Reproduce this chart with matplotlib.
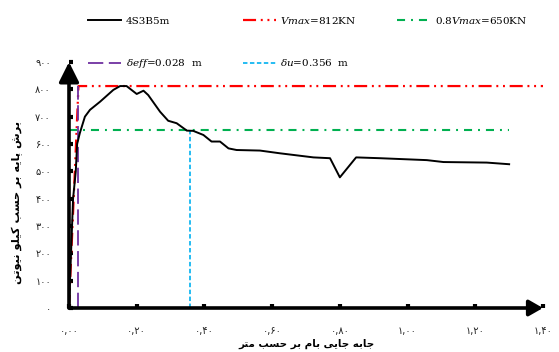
import matplotlib
matplotlib.use("Agg")
import matplotlib.pyplot as plt

plt.rcParams['lines.scale_dashes'] = False
plt.rcParams['mathtext.fontset'] = 'dejavuserif'

# ---- data -------------------------------------------------------------
disp = [0.0, 0.006, 0.012, 0.020, 0.024, 0.032, 0.047, 0.062, 0.092, 0.131,
        0.151, 0.170, 0.200, 0.220, 0.234, 0.269, 0.293, 0.318, 0.348, 0.367,
        0.397, 0.421, 0.446, 0.471, 0.495, 0.564, 0.623, 0.722, 0.771, 0.800,
        0.848, 0.919, 1.057, 1.106, 1.234, 1.300]
shear = [0, 200, 400, 500, 600, 640, 700, 725, 755, 798,
         812, 812, 783, 795, 779, 718, 685, 676, 649, 648,
         633, 609, 609, 584, 578, 576, 566, 551, 548, 478,
         551, 548, 541, 534, 532, 526]

v_max = 812
v_08 = 650
d_eff = 0.028
d_u = 0.356
x_end = 1.40
green_end = 1.30

x_ticks = [0.0, 0.2, 0.4, 0.6, 0.8, 1.0, 1.2, 1.4]
y_ticks = [0, 100, 200, 300, 400, 500, 600, 700, 800, 900]

series_label = "4S3B5m"
vmax_label = r"$Vmax$=812KN"
v08_label = r"0.8$Vmax$=650KN"
deff_label = r"$\delta eff$=0.028  m"
du_label = r"$\delta u$=0.356  m"
x_title = "جابه جایی بام بر حسب متر"
y_title = "برش پایه بر حسب کیلو نیوتن"

# ---- simple Persian shaping (presentation forms, right-to-left) -------
FORMS = {
    'ا': ('\uFE8D', '\uFE8E', None, None),
    'ب': ('\uFE8F', '\uFE90', '\uFE91', '\uFE92'),
    'پ': ('\uFB56', '\uFB57', '\uFB58', '\uFB59'),
    'ت': ('\uFE95', '\uFE96', '\uFE97', '\uFE98'),
    'ج': ('\uFE9D', '\uFE9E', '\uFE9F', '\uFEA0'),
    'ح': ('\uFEA1', '\uFEA2', '\uFEA3', '\uFEA4'),
    'ر': ('\uFEAD', '\uFEAE', None, None),
    'س': ('\uFEB1', '\uFEB2', '\uFEB3', '\uFEB4'),
    'ش': ('\uFEB5', '\uFEB6', '\uFEB7', '\uFEB8'),
    'ک': ('\uFB8E', '\uFB8F', '\uFB90', '\uFB91'),
    'ل': ('\uFEDD', '\uFEDE', '\uFEDF', '\uFEE0'),
    'م': ('\uFEE1', '\uFEE2', '\uFEE3', '\uFEE4'),
    'ن': ('\uFEE5', '\uFEE6', '\uFEE7', '\uFEE8'),
    'ه': ('\uFEE9', '\uFEEA', '\uFEEB', '\uFEEC'),
    'و': ('\uFEED', '\uFEEE', None, None),
    'ی': ('\uFBFC', '\uFBFD', '\uFBFE', '\uFBFF'),
}


def shape(text):
    out = []
    for i, ch in enumerate(text):
        if ch not in FORMS:
            out.append(ch)
            continue
        iso, fin, ini, med = FORMS[ch]
        prev = text[i - 1] if i > 0 else ''
        nxt = text[i + 1] if i + 1 < len(text) else ''
        jp = prev in FORMS and FORMS[prev][2] is not None
        jn = ini is not None and nxt in FORMS
        if jp and jn:
            out.append(med)
        elif jp:
            out.append(fin)
        elif jn:
            out.append(ini)
        else:
            out.append(iso)
    return ''.join(reversed(out))


FA_DIGITS = str.maketrans('0123456789', '۰۱۲۳۴۵۶۷۸۹')


def fa_num(s):
    return s.translate(FA_DIGITS)


# ---- figure -----------------------------------------------------------
fig = plt.figure(figsize=(5.59, 3.52), dpi=100)
ax = fig.add_axes([69 / 559, 1 - 308 / 352, (543 - 69) / 559, (308 - 62) / 352])
ax.set_xlim(0, x_end)
ax.set_ylim(0, 900)
for s in ax.spines.values():
    s.set_visible(False)

red = '#FF0000'
green = '#00B050'
purple = '#7030A0'
blue = '#00B0F0'

l_red, = ax.plot([0, d_eff, x_end], [0, v_max, v_max], color=red, lw=1.6,
                 dashes=(9.4, 3.4, 1.4, 3.4, 1.4, 3.4), clip_on=False)
l_green, = ax.plot([0, green_end], [v_08, v_08], color=green, lw=1.5,
                   dashes=(5.8, 4.3, 1.4, 4.3), clip_on=False)
l_purple, = ax.plot([d_eff, d_eff], [0, v_max], color=purple, lw=1.3,
                    dashes=(11, 4), clip_on=False)
l_blue, = ax.plot([d_u, d_u], [0, v_08], color=blue, lw=1.2,
                  dashes=(3.2, 1.8), clip_on=False)
l_black, = ax.plot(disp, shear, color='black', lw=1.4, clip_on=False)

# axes drawn as arrows
ax.annotate('', xy=(x_end, 0), xytext=(0, 0),
            arrowprops=dict(arrowstyle='-|>,head_length=0.42,head_width=0.24',
                            lw=2.6, color='black', mutation_scale=20,
                            shrinkA=0, shrinkB=0), annotation_clip=False)
ax.annotate('', xy=(0, 900), xytext=(0, 0),
            arrowprops=dict(arrowstyle='-|>,head_length=0.6,head_width=0.3',
                            lw=2.6, color='black', mutation_scale=20,
                            shrinkA=0, shrinkB=0), annotation_clip=False)

ax.set_xticks(x_ticks)
ax.set_xticklabels([fa_num(f"{v:.2f}".replace('.', ',')) for v in x_ticks])
ax.set_yticks(y_ticks)
ax.set_yticklabels([fa_num(str(v)) for v in y_ticks])
ax.tick_params(axis='both', direction='in', length=3, width=3, color='black',
               labelsize=7, labelcolor='#222222')
ax.tick_params(axis='x', pad=13)
ax.tick_params(axis='y', pad=13)

ax.set_xlabel(shape(x_title), fontsize=7.4, fontweight='bold', labelpad=2)
ax.set_ylabel(shape(y_title), fontsize=8.2, fontweight='bold')
ax.yaxis.set_label_coords(-0.098, 0.43)

handles = [l_black, l_purple, l_red, l_blue, l_green]
labels = [series_label, deff_label, vmax_label, du_label, v08_label]
fig.legend(handles, labels, ncol=3, loc='upper left',
           bbox_to_anchor=(88 / 559, 1 - 15 / 352), frameon=False,
           borderpad=0, borderaxespad=0, handlelength=3.2, handletextpad=0.4,
           labelspacing=3.0, columnspacing=3.9,
           prop={'family': 'DejaVu Serif', 'size': 7.5})

fig.savefig('out.png', dpi=100)
